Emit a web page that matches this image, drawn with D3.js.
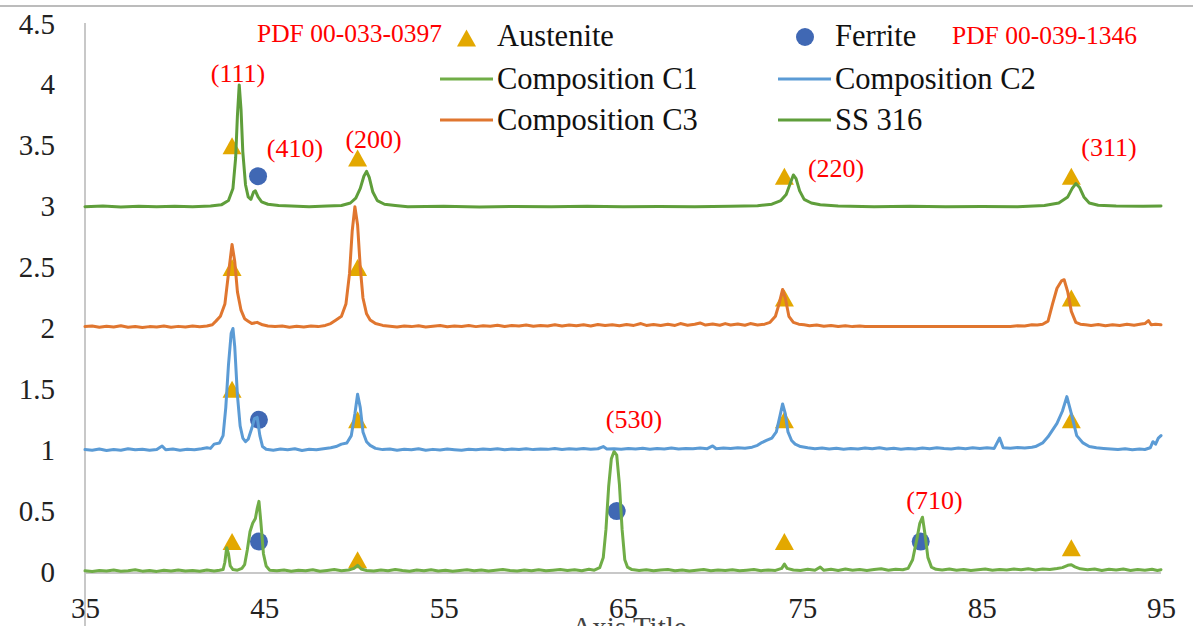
<!DOCTYPE html>
<html>
<head>
<meta charset="utf-8">
<script src="https://cdn.jsdelivr.net/npm/d3@7"></script>
<style>
  html, body { margin: 0; padding: 0; background: #fff; overflow: hidden; }
  svg { display: block; }
  text { font-family: "Liberation Serif", "Times New Roman", serif; }
</style>
</head>
<body>
<svg id="chart" width="1193" height="626"></svg>
<script>
// ---- axis ticks ----
const xTicks = [35, 45, 55, 65, 75, 85, 95];
const yTicks = [0, 0.5, 1, 1.5, 2, 2.5, 3, 3.5, 4, 4.5];

// ---- XRD patterns: [2-theta, offset intensity] ----
const compositionC1 = [
  [35,0.01],[35.4,0.005],[35.8,0.012],[36.2,0.008],[36.6,0.016],[37,0.006],[37.4,0.011],[37.8,0.018],[38.2,0.007],[38.6,0.013],
  [39,0.005],[39.4,0.015],[39.8,0.009],[40.2,0.017],[40.6,0.008],[41,0.012],[41.4,0.006],[41.8,0.016],[42.2,0.009],[42.5,0.014],
  [42.7,0.02],[42.8,0.08],[42.9,0.2],[43.0,0.15],[43.1,0.05],[43.25,0.02],[43.5,0.015],[43.75,0.03],[43.9,0.06],[44.05,0.18],
  [44.2,0.33],[44.35,0.4],[44.5,0.44],[44.6,0.52],[44.7,0.58],[44.8,0.42],[44.95,0.15],[45.1,0.05],[45.3,0.015],[45.7,0.01],
  [46.1,0.017],[46.5,0.007],[46.9,0.014],[47.3,0.01],[47.7,0.019],[48.1,0.006],[48.5,0.013],[48.9,0.02],[49.3,0.01],[49.7,0.016],
  [50.0,0.03],[50.2,0.055],[50.4,0.025],[50.7,0.012],[51.1,0.008],[51.5,0.017],[51.9,0.01],[52.3,0.021],[52.7,0.012],[53.1,0.007],
  [53.5,0.016],[53.9,0.01],[54.3,0.019],[54.7,0.009],[55.1,0.015],[55.5,0.006],[55.9,0.013],[56.3,0.018],[56.7,0.01],[57.1,0.016],
  [57.5,0.008],[57.9,0.014],[58.3,0.021],[58.7,0.012],[59.1,0.009],[59.5,0.017],[59.9,0.011],[60.3,0.019],[60.7,0.01],[61.1,0.015],
  [61.5,0.021],[61.9,0.012],[62.3,0.018],[62.7,0.01],[63.1,0.023],[63.4,0.015],[63.7,0.035],[63.9,0.12],[64.05,0.35],[64.2,0.7],
  [64.35,0.93],[64.5,0.99],[64.65,0.96],[64.8,0.72],[64.95,0.35],[65.1,0.1],[65.25,0.04],[65.5,0.02],[65.9,0.012],[66.3,0.019],
  [66.7,0.01],[67.1,0.016],[67.5,0.021],[67.9,0.011],[68.3,0.017],[68.7,0.009],[69.1,0.015],[69.5,0.02],[69.9,0.01],[70.3,0.016],
  [70.7,0.012],[71.1,0.019],[71.5,0.01],[71.9,0.015],[72.3,0.021],[72.7,0.011],[73.1,0.017],[73.5,0.013],[73.85,0.03],[74.0,0.065],
  [74.15,0.03],[74.5,0.016],[74.9,0.012],[75.3,0.022],[75.7,0.014],[76.0,0.04],[76.2,0.014],[76.6,0.022],[77,0.013],[77.4,0.024],
  [77.8,0.015],[78.2,0.021],[78.6,0.013],[79,0.02],[79.4,0.026],[79.8,0.015],[80.2,0.022],[80.6,0.018],[80.9,0.03],[81.15,0.1],
  [81.4,0.28],[81.55,0.4],[81.7,0.45],[81.85,0.3],[82.0,0.12],[82.2,0.04],[82.45,0.022],[82.8,0.016],[83.2,0.024],[83.6,0.014],
  [84,0.021],[84.4,0.013],[84.8,0.019],[85.2,0.025],[85.6,0.014],[86,0.021],[86.4,0.016],[86.8,0.024],[87.2,0.018],[87.6,0.027],
  [88,0.017],[88.4,0.024],[88.8,0.02],[89.2,0.028],[89.5,0.036],[89.8,0.055],[90.0,0.06],[90.2,0.042],[90.5,0.026],[90.9,0.019],
  [91.3,0.024],[91.7,0.013],[92.1,0.022],[92.5,0.016],[92.9,0.024],[93.3,0.013],[93.7,0.02],[94.1,0.015],[94.5,0.022],[94.8,0.013],
  [95,0.019]
];

const compositionC2 = [
  [35,1.005],[35.4,1.0],[35.8,1.01],[36.2,0.998],[36.6,1.006],[37,1.0],[37.4,1.012],[37.8,1.003],[38.2,1.008],[38.6,0.999],
  [39.0,1.006],[39.3,1.035],[39.5,1.004],[39.9,1.01],[40.3,1.0],[40.7,1.008],[41.1,1.003],[41.5,1.012],[41.8,1.02],[42.0,1.015],
  [42.2,1.05],[42.5,1.06],[42.7,1.12],[42.85,1.35],[43.0,1.7],[43.15,1.96],[43.25,2.0],[43.35,1.85],[43.5,1.45],[43.65,1.2],
  [43.8,1.1],[43.95,1.07],[44.1,1.09],[44.3,1.18],[44.45,1.26],[44.6,1.27],[44.75,1.12],[44.9,1.03],[45.1,1.008],[45.5,1.0],
  [45.9,1.01],[46.3,1.003],[46.7,1.012],[47.1,0.998],[47.5,1.008],[47.9,1.004],[48.3,1.012],[48.7,1.02],[49.0,1.03],[49.3,1.05],
  [49.6,1.06],[49.85,1.12],[50.05,1.3],[50.2,1.46],[50.35,1.35],[50.5,1.15],[50.7,1.07],[50.9,1.04],[51.2,1.015],[51.6,1.005],
  [52,1.01],[52.4,1.0],[52.8,1.008],[53.2,1.003],[53.6,1.012],[54,1.0],[54.4,1.007],[54.8,1.002],[55.2,1.01],[55.6,1.004],
  [56,0.999],[56.4,1.008],[56.8,1.003],[57.2,1.01],[57.6,1.005],[58,1.012],[58.4,1.004],[58.8,1.01],[59.2,1.006],[59.6,1.013],
  [60,1.005],[60.4,1.01],[60.8,1.007],[61.2,1.014],[61.6,1.006],[62,1.012],[62.4,1.008],[62.8,1.015],[63.2,1.008],[63.6,1.012],
  [63.9,1.03],[64.1,1.01],[64.5,1.012],[64.9,1.008],[65.3,1.015],[65.7,1.01],[66.1,1.016],[66.5,1.008],[66.9,1.014],[67.3,1.01],
  [67.7,1.018],[68.1,1.01],[68.5,1.015],[68.9,1.012],[69.3,1.018],[69.7,1.013],[70.0,1.035],[70.2,1.012],[70.6,1.018],[71.0,1.014],
  [71.4,1.02],[71.8,1.016],[72.2,1.025],[72.5,1.04],[72.7,1.06],[73.0,1.08],[73.3,1.1],[73.55,1.15],[73.75,1.28],[73.9,1.38],
  [74.05,1.3],[74.2,1.15],[74.4,1.08],[74.6,1.05],[74.9,1.03],[75.3,1.02],[75.7,1.012],[76.1,1.018],[76.5,1.01],[76.9,1.016],
  [77.3,1.008],[77.7,1.014],[78.1,1.01],[78.5,1.018],[78.9,1.012],[79.3,1.02],[79.7,1.01],[80.1,1.016],[80.5,1.008],[80.9,1.015],
  [81.3,1.01],[81.7,1.018],[82.1,1.012],[82.5,1.02],[82.9,1.014],[83.3,1.01],[83.7,1.018],[84.1,1.012],[84.5,1.02],[84.9,1.014],
  [85.3,1.02],[85.7,1.015],[86.0,1.1],[86.2,1.02],[86.6,1.016],[87.0,1.022],[87.4,1.018],[87.8,1.025],[88.0,1.03],[88.4,1.06],
  [88.7,1.11],[89.2,1.22],[89.5,1.32],[89.75,1.44],[89.95,1.33],[90.3,1.12],[90.65,1.06],[91.0,1.03],[91.4,1.02],[91.8,1.015],
  [92.2,1.01],[92.6,1.006],[93.0,1.012],[93.4,1.004],[93.8,1.01],[94.1,1.006],[94.4,1.02],[94.55,1.07],[94.7,1.05],[94.85,1.1],
  [95,1.12]
];

const compositionC3 = [
  [35,2.015],[35.4,2.02],[35.8,2.01],[36.2,2.018],[36.6,2.012],[37,2.022],[37.4,2.01],[37.8,2.016],[38.2,2.008],[38.6,2.015],
  [39,2.012],[39.4,2.02],[39.8,2.01],[40.2,2.017],[40.6,2.012],[41,2.02],[41.4,2.014],[41.8,2.02],[42.1,2.03],[42.3,2.06],
  [42.55,2.1],[42.8,2.2],[43.0,2.45],[43.2,2.69],[43.35,2.55],[43.5,2.3],[43.7,2.15],[43.9,2.08],[44.1,2.06],[44.3,2.04],
  [44.6,2.05],[44.9,2.03],[45.2,2.02],[45.6,2.015],[46,2.02],[46.4,2.01],[46.8,2.018],[47.2,2.012],[47.6,2.02],[48,2.015],
  [48.4,2.025],[48.7,2.04],[49.0,2.07],[49.3,2.1],[49.55,2.2],[49.75,2.45],[49.9,2.8],[50.05,3.0],[50.2,2.85],[50.35,2.5],
  [50.5,2.25],[50.7,2.12],[50.9,2.07],[51.2,2.04],[51.6,2.025],[52,2.018],[52.4,2.012],[52.8,2.02],[53.2,2.015],[53.6,2.022],
  [54,2.012],[54.4,2.018],[54.8,2.024],[55.2,2.014],[55.6,2.02],[56,2.016],[56.4,2.024],[56.8,2.015],[57.2,2.022],[57.6,2.018],
  [58,2.026],[58.4,2.016],[58.8,2.024],[59.2,2.02],[59.6,2.028],[60,2.018],[60.4,2.025],[60.8,2.02],[61.2,2.03],[61.6,2.02],
  [62,2.028],[62.4,2.022],[62.8,2.03],[63.2,2.02],[63.6,2.032],[64,2.024],[64.4,2.03],[64.8,2.022],[65.2,2.032],[65.6,2.025],
  [66,2.04],[66.3,2.025],[66.7,2.032],[67.1,2.024],[67.5,2.035],[67.9,2.025],[68.2,2.04],[68.6,2.026],[69,2.035],[69.3,2.045],
  [69.6,2.028],[70,2.036],[70.4,2.026],[70.7,2.04],[71.0,2.028],[71.4,2.036],[71.8,2.026],[72.1,2.04],[72.5,2.028],[72.9,2.035],
  [73.2,2.05],[73.5,2.1],[73.7,2.2],[73.9,2.32],[74.05,2.25],[74.25,2.1],[74.5,2.05],[74.8,2.035],[75.1,2.03],[75.4,2.022],
  [75.8,2.028],[76.2,2.018],[76.6,2.024],[77,2.016],[77.4,2.022],[77.8,2.015],[78.2,2.02],[78.5,2.016],[86.6,2.016],[87,2.022],
  [87.4,2.02],[87.8,2.03],[88.1,2.028],[88.4,2.035],[88.7,2.06],[88.95,2.2],[89.2,2.33],[89.45,2.39],[89.6,2.4],[89.8,2.3],
  [90.0,2.14],[90.25,2.05],[90.5,2.035],[90.8,2.03],[91.1,2.025],[91.5,2.032],[91.9,2.022],[92.3,2.03],[92.7,2.024],[93.1,2.034],
  [93.5,2.026],[93.9,2.036],[94.1,2.04],[94.3,2.065],[94.45,2.03],[94.7,2.035],[95,2.03]
];

const ss316 = [
  [35,3.0],[36,3.005],[37,2.998],[38,3.003],[39,3.0],[40,3.004],[41,3.0],[42,3.006],[42.6,3.015],[43.0,3.05],
  [43.25,3.15],[43.4,3.4],[43.5,3.75],[43.6,4.0],[43.7,3.8],[43.8,3.45],[43.95,3.18],[44.1,3.08],[44.25,3.06],[44.4,3.12],
  [44.5,3.13],[44.65,3.08],[44.85,3.04],[45.2,3.02],[45.8,3.01],[46.5,3.005],[47.5,3.0],[48.5,3.005],[49.3,3.01],[49.8,3.03],
  [50.1,3.07],[50.35,3.15],[50.55,3.25],[50.7,3.29],[50.85,3.24],[51.05,3.12],[51.3,3.05],[51.7,3.02],[52.3,3.01],[53,3.0],
  [55,3.003],[57,2.998],[59,3.002],[61,3.0],[63,3.003],[65,2.999],[67,3.002],[69,3.0],[71,3.003],[72.5,3.008],
  [73.3,3.02],[73.8,3.05],[74.1,3.1],[74.35,3.2],[74.5,3.26],[74.65,3.23],[74.85,3.13],[75.1,3.06],[75.5,3.03],[76,3.015],
  [77,3.005],[79,3.0],[81,3.003],[83,2.999],[85,3.002],[87,3.0],[88.5,3.01],[89.3,3.03],[89.8,3.08],[90.05,3.15],
  [90.25,3.19],[90.45,3.16],[90.7,3.08],[91,3.03],[91.5,3.012],[92.5,3.005],[94,3.003],[95,3.005]
];

// ---- phase reference markers: [2-theta, offset intensity] ----
const austenite = [
  [43.2,3.5],[50.2,3.4],[74.0,3.25],[90.0,3.25],
  [43.2,2.5],[50.2,2.5],[74.0,2.25],[90.0,2.25],
  [43.2,1.5],[50.2,1.25],[74.0,1.25],[90.0,1.25],
  [43.2,0.25],[50.2,0.1],[74.0,0.25],[90.0,0.2]
];
const ferrite = [
  [44.65,3.25],[44.7,1.25],[44.7,0.25],[64.65,0.5],[81.6,0.25]
];

// ---- reflection indices: [label, 2-theta, offset intensity] ----
const reflections = [
  ["(111)",43.53,4.02],["(410)",46.71,3.41],["(200)",51.09,3.48],["(220)",76.88,3.245],
  ["(311)",92.1,3.415],["(530)",65.61,1.18],["(710)",82.37,0.517]
];

const seriesNames = ["Composition C1","Composition C2","Composition C3","SS 316"];
const seriesData = [compositionC1, compositionC2, compositionC3, ss316];
const seriesColors = ["#70AD47","#5B9BD5","#E0762F","#5F9E3B"];

const svg = d3.select("#chart");
const x = d3.scaleLinear().domain([35, 95]).range([85, 1161]);
const y = d3.scaleLinear().domain([0, 4.5]).range([572, 24]);

// frame line across the top
svg.append("line").attr("x1", 0).attr("x2", 1193).attr("y1", 6).attr("y2", 6)
  .attr("stroke", "#a6a6a6").attr("stroke-width", 1.5);

// horizontal axis line at zero
svg.append("line").attr("x1", x(35)).attr("x2", x(95)).attr("y1", y(0) + 1).attr("y2", y(0) + 1)
  .attr("stroke", "#c8c8c8").attr("stroke-width", 2);
// vertical axis line
svg.append("line").attr("x1", x(35)).attr("x2", x(35)).attr("y1", y(4.5) - 1).attr("y2", 626)
  .attr("stroke", "#c8c8c8").attr("stroke-width", 2);

// y tick labels
const yAxis = d3.axisLeft(y).tickValues(yTicks).tickSize(0).tickPadding(30)
  .tickFormat(d => String(d));
const gy = svg.append("g").attr("transform", `translate(${x(35)},0)`).call(yAxis);
gy.select(".domain").remove();
gy.selectAll("text").attr("font-size", 29).attr("fill", "#222")
  .attr("font-family", '"Liberation Serif","Times New Roman",serif').attr("dy", "0.31em");

// x tick labels
const xAxis = d3.axisBottom(x).tickValues(xTicks).tickSize(0).tickPadding(0)
  .tickFormat(d => String(d));
const gx = svg.append("g").attr("transform", `translate(0,${y(0)})`).call(xAxis);
gx.select(".domain").remove();
gx.selectAll("text").attr("font-size", 29).attr("fill", "#222")
  .attr("font-family", '"Liberation Serif","Times New Roman",serif').attr("dy", null).attr("y", 46);

// axis titles
svg.append("text").attr("x", 629).attr("y", 637).attr("text-anchor", "middle")
  .attr("font-size", 29).attr("fill", "#444").text("Axis Title");
svg.append("clipPath").attr("id", "ytitle-clip")
  .append("rect").attr("x", 5.5).attr("y", 200).attr("width", 3).attr("height", 260);
svg.append("text").attr("clip-path", "url(#ytitle-clip)")
  .attr("transform", `translate(8,328) rotate(-90)`).attr("text-anchor", "middle")
  .attr("font-size", 29).attr("fill", "#444").text("Axis Title");

// triangle marker path centred on (0,0)
const triPath = "M0,-8.5L9.5,8.5L-9.5,8.5Z";

// phase markers
svg.append("g").selectAll("path").data(austenite).join("path")
  .attr("d", triPath)
  .attr("transform", d => `translate(${x(d[0])},${y(d[1])})`)
  .attr("fill", "#E3A800");
svg.append("g").selectAll("circle").data(ferrite).join("circle")
  .attr("cx", d => x(d[0])).attr("cy", d => y(d[1])).attr("r", 9)
  .attr("fill", "#4068B4");

// diffraction patterns
const line = d3.line().x(d => x(d[0])).y(d => y(d[1]));
svg.append("g").selectAll("path").data(seriesData).join("path")
  .attr("d", d => line(d))
  .attr("fill", "none")
  .attr("stroke", (d, i) => seriesColors[i])
  .attr("stroke-width", 3)
  .attr("stroke-linejoin", "round")
  .attr("stroke-linecap", "round");

// reflection labels
svg.append("g").selectAll("text").data(reflections).join("text")
  .attr("x", d => x(d[1])).attr("y", d => y(d[2]))
  .attr("text-anchor", "middle").attr("font-size", 26).attr("fill", "#FF0000")
  .text(d => d[0]);

// legend
const lg = svg.append("g");
lg.append("text").attr("x", 257).attr("y", 42).attr("font-size", 25.5).attr("fill", "#FF0000")
  .text("PDF 00-033-0397");
lg.append("path").attr("d", triPath).attr("transform", "translate(466.5,38)").attr("fill", "#E3A800");
lg.append("text").attr("x", 497).attr("y", 46).attr("font-size", 30.5).attr("fill", "#111").text("Austenite");
lg.append("circle").attr("cx", 805).attr("cy", 37).attr("r", 9).attr("fill", "#4068B4");
lg.append("text").attr("x", 835).attr("y", 46).attr("font-size", 30.5).attr("fill", "#111").text("Ferrite");
lg.append("text").attr("x", 952).attr("y", 43.5).attr("font-size", 25.5).attr("fill", "#FF0000")
  .text("PDF 00-039-1346");

const legendSlots = [[440, 79], [778, 79], [440, 120], [778, 120]];
seriesNames.forEach((name, i) => {
  const [lx, ly] = legendSlots[i];
  lg.append("line").attr("x1", lx).attr("x2", lx + 53).attr("y1", ly).attr("y2", ly)
    .attr("stroke", seriesColors[i]).attr("stroke-width", 3);
  lg.append("text").attr("x", lx + 57).attr("y", ly + 9.5).attr("font-size", 30.5)
    .attr("fill", "#111").text(name);
});
</script>
</body>
</html>
